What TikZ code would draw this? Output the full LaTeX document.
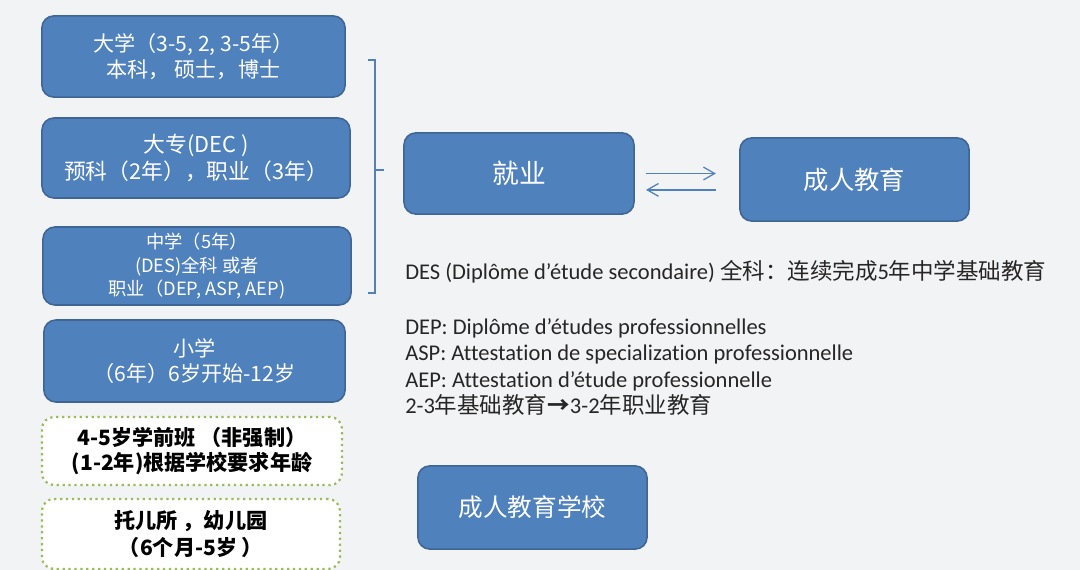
\documentclass[tikz,border=0pt]{standalone}
\usepackage{fontspec}
\setmainfont[Ligatures=NoCommon]{Carlito}
\newfontfamily\cjk{Noto Sans CJK SC}
\usetikzlibrary{arrows.meta, positioning, calc}
\definecolor{boxblue}{HTML}{4F81BD}
\definecolor{boxedge}{HTML}{3E6594}
\definecolor{dotgreen}{HTML}{9BBB59}
\definecolor{slidebg}{HTML}{F2F3F5}
\definecolor{notegray}{HTML}{262626}

\begin{document}
\begin{tikzpicture}[x=0.025cm, y=-0.025cm,
  stage/.style={draw=boxedge, line width=1.1pt, fill=boxblue, rounded corners=0.3cm, text=white, align=center, inner sep=0pt, font=\cjk\fontsize{15}{18.4}\selectfont},
  early/.style={draw=dotgreen, line width=1.6pt, dash pattern=on 1.6pt off 2.6pt, fill=white, rounded corners=0.3cm, text=black, align=center, inner sep=0pt, font=\cjk\bfseries\fontsize{15}{17.5}\selectfont},
  note/.style={anchor=west, align=left, inner sep=0pt, text=notegray, font=\fontsize{16}{18.9}\selectfont},
  swap/.style={draw=boxblue, line width=0.9pt, -{Straight Barb[length=2.8mm, width=3.2mm]}}]
  \useasboundingbox (0,0) rectangle (1080,570);
  \fill[slidebg] (0,0) rectangle (1080,570);

  % school stages
  \node[stage, minimum width=7.58cm, minimum height=2.03cm] (uni) at (193.5,56.5) {大学（3-5, 2, 3-5年）\\本科， 硕士，博士};
  \node[stage, minimum width=7.7cm, minimum height=2cm, font=\cjk\fontsize{15.5}{18.8}\selectfont] (dec) at (196,158) {大专(DEC )\\预科（2年），职业（3年）};
  \node[stage, minimum width=7.7cm, minimum height=1.95cm, font=\cjk\fontsize{13}{16.7}\selectfont] (sec) at (197,266) {中学（5年）\\(DES)全科 或者\\职业（DEP, ASP, AEP)};
  \node[stage, minimum width=7.53cm, minimum height=2.05cm] (pri) at (194.5,361) {小学\\（6年）6岁开始-12岁};
  \node[early, minimum width=7.5cm, minimum height=1.7cm] (pre) at (192,451) {4-5岁学前班 （非强制）\\(1-2年)根据学校要求年龄};
  \node[early, minimum width=7.45cm, minimum height=1.75cm, font=\cjk\bfseries\fontsize{15}{19}\selectfont] (nur) at (191,534) {托儿所 ，幼儿园\\（6个月-5岁 ）};

  % bracket
  \draw[boxblue, line width=1pt] (368,60) -- (375,60) -- (375,293) -- (368,293);
  \draw[boxblue, line width=1pt] (375,170) -- (384,170);

  % work and adult education
  \node[stage, minimum width=5.75cm, minimum height=2.03cm, font=\cjk\fontsize{19}{22}\selectfont] (job) at (519,173.5) {就业};
  \node[stage, minimum width=5.73cm, minimum height=2.08cm, font=\cjk\fontsize{18}{22}\selectfont] (adult) at (854.5,179.5) {成人教育};
  \draw[swap, shorten <=0.28cm, shorten >=0.58cm] (job.east) -- (job.east -| adult.west);
  \draw[swap, shorten <=0.58cm, shorten >=0.28cm] ([yshift=-0.41cm]job.east -| adult.west) -- ([yshift=-0.41cm]job.east);
  \node[stage, minimum width=5.73cm, minimum height=2.08cm, font=\cjk\fontsize{17.5}{22}\selectfont] (school) at (532.5,507.5) {成人教育学校};

  % notes
  \node[note] (des) at (405,272) {DES (Diplôme d’étude secondaire) {\cjk 全科：连续完成}5{\cjk 年中学基础教育}};
  \node[note] (dep) at (405,367) {DEP: Diplôme d’études professionnelles\\ASP: Attestation de specialization professionnelle\\AEP: Attestation d’étude professionnelle\\2-3{\cjk 年基础教育}{\cjk\bfseries →}3-2{\cjk 年职业教育}};
\end{tikzpicture}
\end{document}
